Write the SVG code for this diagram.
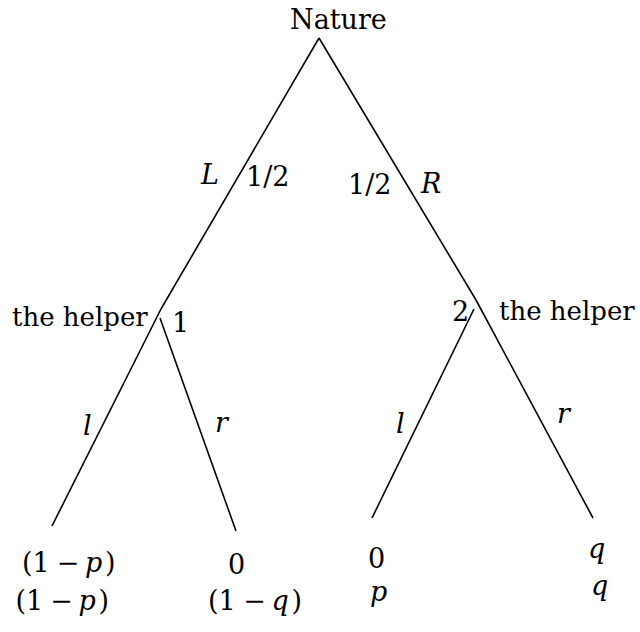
<svg xmlns="http://www.w3.org/2000/svg" width="640" height="632" viewBox="0 0 640 632">
<style>
  .e { stroke: #000; stroke-width: 1.6; fill: none; stroke-linecap: butt; }
  text { font-family: "DejaVu Serif", "Liberation Serif", serif; font-size: 27px; fill: #000; }
  .i { font-style: italic; }
  .h { font-size: 26px; }
  .m { text-anchor: middle; }
</style>
<rect width="640" height="632" fill="#fff"/>
<g id="connectors">
  <line class="e" x1="319" y1="38" x2="161" y2="309"/>
  <line class="e" x1="319" y1="38" x2="476" y2="300"/>
  <line class="e" x1="161" y1="309" x2="52" y2="526"/>
  <line class="e" x1="160" y1="318" x2="236" y2="531"/>
  <line class="e" x1="476" y1="300" x2="593" y2="518"/>
  <line class="e" x1="474" y1="309" x2="372" y2="518"/>
</g>
<g id="edge-labels">
  <text class="i" x="201" y="184">L</text>
  <text x="246" y="186">1/2</text>
  <text x="348" y="194">1/2</text>
  <text class="i" x="421" y="193">R</text>
  <text class="i" x="83" y="435">l</text>
  <text class="i" x="215" y="432">r</text>
  <text class="i" x="396" y="433">l</text>
  <text class="i" x="557" y="423">r</text>
</g>
<g id="nature">
  <text x="290" y="29">Nature</text>
</g>
<g id="helper-left">
  <text class="h" x="12" y="326">the helper</text>
  <text x="172" y="332">1</text>
</g>
<g id="helper-right">
  <text x="452" y="321">2</text>
  <text class="h" x="499" y="320">the helper</text>
</g>
<g id="leaf-ll">
  <text x="22" y="572">(1</text>
  <text class="m" x="68" y="572">−</text>
  <text class="i" x="85" y="572">p</text>
  <text x="105" y="572">)</text>
  <text x="15.5" y="610">(1</text>
  <text class="m" x="61.5" y="610">−</text>
  <text class="i" x="78.5" y="610">p</text>
  <text x="98.5" y="610">)</text>
</g>
<g id="leaf-lr">
  <text x="228" y="574">0</text>
  <text x="208" y="610">(1</text>
  <text class="m" x="254.5" y="610">−</text>
  <text class="i" x="271.5" y="610">q</text>
  <text x="291.5" y="610">)</text>
</g>
<g id="leaf-rl">
  <text x="368" y="568">0</text>
  <text class="i" x="370" y="601">p</text>
</g>
<g id="leaf-rr">
  <text class="i" x="588" y="558">q</text>
  <text class="i" x="591" y="595">q</text>
</g>
</svg>
